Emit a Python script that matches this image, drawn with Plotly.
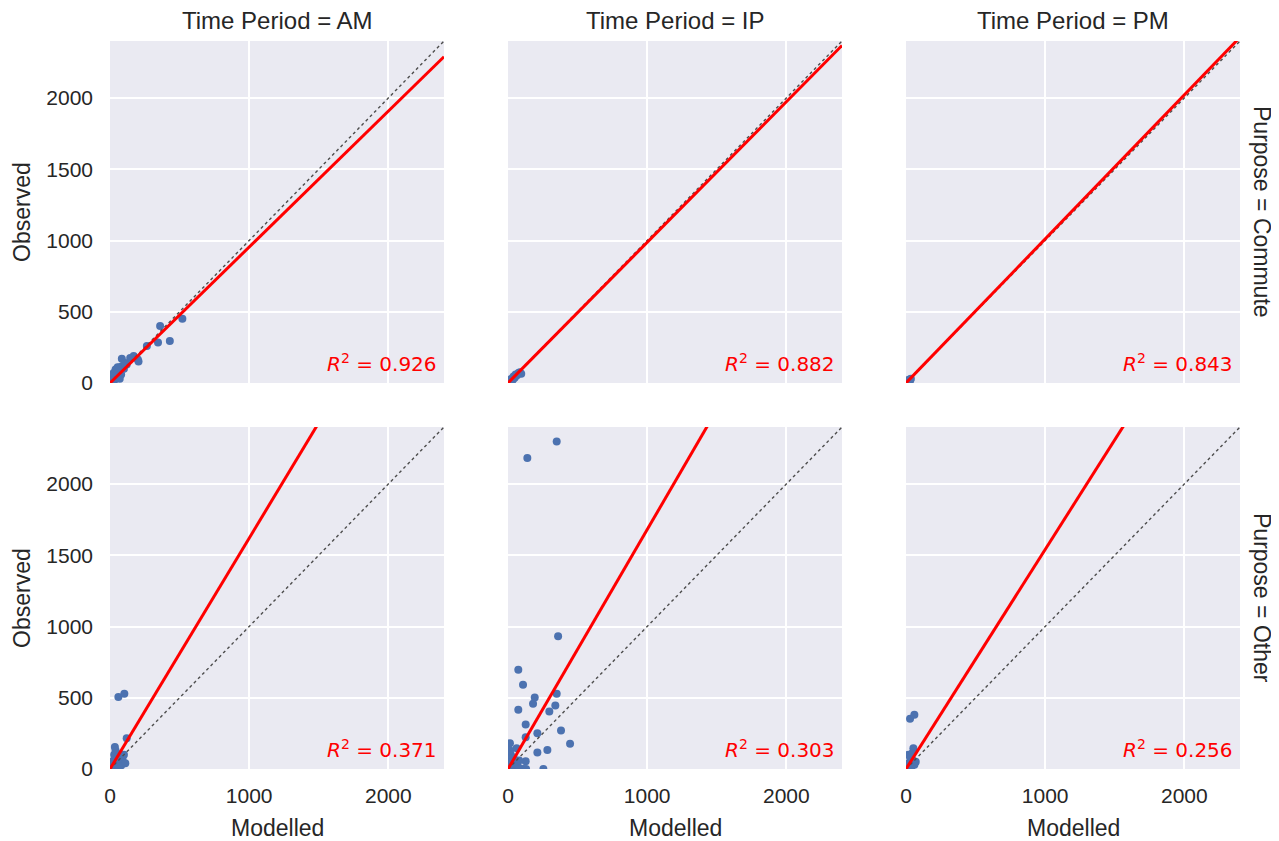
import plotly.graph_objects as go
from plotly.subplots import make_subplots

# ---------------- data ----------------
periods = ["AM", "IP", "PM"]
purposes = ["Commute", "Other"]

am_commute_modelled = [5, 10, 15, 20, 25, 30, 35, 40, 45, 50, 55, 60, 65, 70, 80, 85, 90, 100, 110, 120, 145, 170, 200, 205, 265, 345, 360, 430, 520,
                       15, 25, 40, 55, 70]
am_commute_observed = [8, 20, 5, 30, 15, 45, 25, 60, 35, 80, 50, 40, 90, 110, 60, 170, 120, 100, 140, 130, 175, 190, 165, 150, 260, 285, 400, 295, 450,
                       55, 70, 95, 110, 30]

ip_commute_modelled = [10, 20, 25, 30, 35, 40, 45, 50, 55, 65, 75, 85, 95]
ip_commute_observed = [10, 15, 30, 20, 25, 45, 35, 40, 60, 55, 70, 75, 65]

pm_commute_modelled = [5, 10, 15, 20, 25, 30, 35]
pm_commute_observed = [5, 10, 20, 12, 25, 18, 30]

am_other_modelled = [10, 15, 20, 25, 30, 35, 40, 45, 50, 55, 60, 70, 80, 90, 100, 110, 120, 60, 103]
am_other_observed = [5, 30, 20, 60, 100, 155, 130, 110, 80, 40, 10, 50, 25, 70, 100, 40, 215, 505, 528]

ip_other_modelled = [350, 139, 360, 74, 108, 192, 180, 350, 340, 297, 74, 127, 381, 211, 127, 446, 283, 211, 14, 62, 127, 254,
                     5, 10, 20, 30, 40, 50, 60, 15, 25, 35, 45, 90, 110, 130, 70, 80]
ip_other_observed = [2298, 2183, 932, 697, 592, 502, 458, 528, 446, 404, 415, 312, 270, 251, 223, 178, 134, 115, 181, 146, 54, 0,
                     20, 60, 100, 40, 80, 30, 10, 130, 5, 50, 20, 0, 0, 0, 25, 60]

pm_other_modelled = [29, 60, 53, 10, 20, 30, 40, 50, 60, 70, 15, 5, 25, 45]
pm_other_observed = [352, 380, 146, 10, 40, 80, 20, 60, 30, 50, 100, 5, 15, 110]

# fitted slopes (regression through origin) and R^2 per panel, row-major
fit_slopes = [0.954, 0.987, 1.011, 1.62, 1.68, 1.54]
r2_values = [0.926, 0.882, 0.843, 0.371, 0.303, 0.256]

line_x = [0, 2400]
x_ticks = [0, 1000, 2000]
y_ticks = [0, 500, 1000, 1500, 2000]

panels = [
    (am_commute_modelled, am_commute_observed),
    (ip_commute_modelled, ip_commute_observed),
    (pm_commute_modelled, pm_commute_observed),
    (am_other_modelled, am_other_observed),
    (ip_other_modelled, ip_other_observed),
    (pm_other_modelled, pm_other_observed),
]

# ---------------- figure ----------------
W, H = 1279, 841
OFF = 8  # page body margin: the figure is drawn 8px in from the window corner
col_px = [(110, 444), (508, 842), (906, 1240)]
row_px = [(41, 383), (427, 769)]


def px(v):
    return (v - OFF) / W


def py(v):
    return 1 - (v - OFF) / H


fig = make_subplots(rows=2, cols=3)

FONT = "Liberation Sans, Arial, sans-serif"
TXT = "#262626"

for i, (mx, my) in enumerate(panels):
    r, c = divmod(i, 3)
    fig.add_trace(go.Scatter(x=mx, y=my, mode="markers",
                             marker=dict(color="#4C72B0", size=8, line=dict(width=0)),
                             showlegend=False, hoverinfo="skip"), row=r + 1, col=c + 1)
    fig.add_trace(go.Scatter(x=line_x, y=line_x, mode="lines",
                             line=dict(color="#4d4d4d", width=1.4, dash="dot"),
                             showlegend=False, hoverinfo="skip"), row=r + 1, col=c + 1)
    fig.add_trace(go.Scatter(x=line_x, y=[fit_slopes[i] * v for v in line_x], mode="lines",
                             line=dict(color="red", width=3),
                             showlegend=False, hoverinfo="skip"), row=r + 1, col=c + 1)

    idx = i + 1
    xname = "xaxis" if idx == 1 else f"xaxis{idx}"
    yname = "yaxis" if idx == 1 else f"yaxis{idx}"
    x0, x1 = col_px[c]
    y0, y1 = row_px[r]
    fig.layout[xname].update(
        domain=[px(x0), px(x1)], range=[0, 2400], tickvals=x_ticks, automargin=False,
        showgrid=True, gridcolor="white", gridwidth=1.6, zeroline=False, showline=False,
        ticks="", showticklabels=(r == 1), ticklabelstandoff=12,
        tickfont=dict(family=FONT, size=21, color=TXT))
    fig.layout[yname].update(
        domain=[py(y1), py(y0)], range=[0, 2400], tickvals=y_ticks, automargin=False,
        showgrid=True, gridcolor="white", gridwidth=1.6, zeroline=False, showline=False,
        ticks="", showticklabels=(c == 0), ticklabelstandoff=16,
        tickfont=dict(family=FONT, size=21, color=TXT))

    xr = "x" if idx == 1 else f"x{idx}"
    yr = "y" if idx == 1 else f"y{idx}"
    fig.add_annotation(xref=f"{xr} domain", yref=f"{yr} domain", x=0.985, y=0.015,
                       xanchor="right", yanchor="bottom", showarrow=False,
                       text=f"<i>R</i><sup>2</sup> = {r2_values[i]:.3f}",
                       font=dict(family="DejaVu Sans", size=20, color="red"))

# column titles and x labels
for c, p in enumerate(periods):
    cx = px((col_px[c][0] + col_px[c][1]) / 2)
    fig.add_annotation(xref="paper", yref="paper", x=cx, y=py(20), xanchor="center", yanchor="middle",
                       showarrow=False, text=f"Time Period = {p}",
                       font=dict(family=FONT, size=24, color=TXT))
    fig.add_annotation(xref="paper", yref="paper", x=cx, y=py(828), xanchor="center", yanchor="middle",
                       showarrow=False, text="Modelled",
                       font=dict(family=FONT, size=23, color=TXT))

# row titles and y labels
for r, p in enumerate(purposes):
    cy = py((row_px[r][0] + row_px[r][1]) / 2)
    fig.add_annotation(xref="paper", yref="paper", x=px(1262), y=cy, xanchor="center", yanchor="middle",
                       showarrow=False, text=f"Purpose = {p}", textangle=90,
                       font=dict(family=FONT, size=23, color=TXT))
    fig.add_annotation(xref="paper", yref="paper", x=px(22), y=cy, xanchor="center", yanchor="middle",
                       showarrow=False, text="Observed", textangle=-90,
                       font=dict(family=FONT, size=23, color=TXT))

fig.update_layout(width=W, height=H, margin=dict(l=0, r=0, t=0, b=0, autoexpand=False),
                  paper_bgcolor="white", plot_bgcolor="#EAEAF2", showlegend=False)

fig.write_html("out.html")
